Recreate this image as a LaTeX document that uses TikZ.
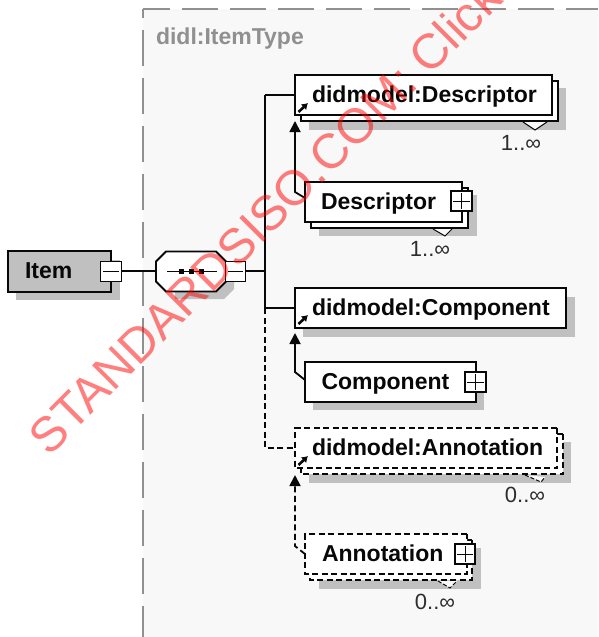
\documentclass[tikz,border=0pt]{standalone}
\usepackage{fontspec}
\setmainfont{Liberation Sans}
\usetikzlibrary{arrows.meta,shapes.misc,calc}
\definecolor{panelc}{HTML}{F8F8F8}
\definecolor{dashc}{HTML}{909090}
\definecolor{shadowc}{HTML}{C0C0C0}
\definecolor{inkc}{HTML}{080808}
\tikzset{
  x=1pt,y=-1pt,
  every node/.style={inner sep=0pt,outer sep=0pt,text=inkc},
  conn/.style={draw=inkc,line width=1.8pt},
  dconn/.style={conn,dash pattern=on 6pt off 3.5pt},
  uparrow/.style={-{Triangle[width=11pt,length=11pt]}},
  lbl/.style={font=\fontsize{23}{23}\selectfont\bfseries,text height=14pt,text depth=0pt,align=left},
  boxa/.style={draw=inkc,fill=white,line width=1.8pt,minimum height=40pt,lbl,inner xsep=17pt},
  backa/.style={draw=inkc,fill=white,line width=1.8pt,minimum height=40pt},
  dbacka/.style={backa,chamfered rectangle,chamfered rectangle xsep=3pt,chamfered rectangle ysep=3pt,dash pattern=on 6pt off 3.5pt},
  pm/.style={draw=inkc,fill=white,line width=1.8pt,minimum width=20pt,minimum height=20pt},
  sh/.style={fill=shadowc},
  tail/.style={draw=inkc,fill=panelc,line width=1pt},
  mult/.style={font=\fontsize{22}{22}\selectfont,text=inkc!85!white},
  refmark/.style={draw=inkc,line width=2.6pt,-{Latex[length=6pt,width=8pt]}},
}
\begin{document}
\begin{tikzpicture}
\useasboundingbox (0,0) rectangle (598,637);
% panel
\fill[panelc] (143,9) rectangle (598,637);
\draw[dashc,line width=2pt,dash pattern=on 36pt off 12pt,dash phase=9pt] (143,9) -- (598,9);
\draw[dashc,line width=2pt,dash pattern=on 36pt off 12pt,dash phase=27pt] (143,9) -- (143,637);
\node[anchor=base west,font=\fontsize{23}{23}\selectfont\bfseries,text=dashc] (title) at (156,44) {didl:ItemType};
% shadows
\fill[sh] (16,260) rectangle (120,300);
\fill[sh] (175,261) -- (234,261) -- (234,289) -- (224,299) -- (175,299) -- cycle;
\fill[sh] (309,88) rectangle (566,130);
\fill[sh] (319,195) rectangle (477,236);
\fill[sh] (303,297) rectangle (575,337);
\fill[sh] (313,371) rectangle (484,410);
\fill[sh] (309,442) rectangle (571,483);
\fill[sh] (319,548) rectangle (481,589);
\coordinate (jn) at (265,271);
\coordinate (jd) at (265,308);
% Item
\node[boxa,fill=shadowc,minimum height=41pt,text width=69pt] (item) at (59.5,271.5) {Item};
\node[pm,minimum width=21pt] (m1) at (111,271.5) {};
\draw[conn,line width=1pt] (103,271) -- (119,271);
% sequence
\node[minimum width=70pt,minimum height=40pt] (seq) at (191,271.5) {};
\draw[conn,fill=white] (166,251.5) -- (216,251.5) -- (226,261.5) -- (226,281.5) -- (216,291.5) -- (166,291.5) -- (156,281.5) -- (156,261.5) -- cycle;
\draw[conn,line width=1pt] (167,271) -- (217,271);
\foreach \cx in {181,191,201} \fill[inkc] (\cx-2.5,268.5) rectangle (\cx+2.5,273.5);
\node[pm] (m2) at (235.5,271.5) {};
\draw[conn,line width=1pt] (228,271) -- (243,271);
\draw[conn] (m1.east |- jn) -- (seq.west |- jn);
\draw[conn] (m2.east |- jn) -- (jn);
% Descriptor ref
\node[backa,minimum width=257pt] (dtopb) at (429.5,101) {};
\node[boxa,text width=223pt] (dtop) at (423.5,95) {didmodel:Descriptor};
\draw[tail] (523,122) -- (535,130) -- (547,122);
\node[mult] (mdtop) at (521,143) {1..∞};
\draw[refmark] (298.5,112) -- (308,103);
% Descriptor local
\node[backa,minimum width=157pt] (dlowb) at (389.5,208) {};
\node[boxa,inner xsep=16pt,text width=125pt] (dlow) at (383.5,202) {Descriptor};
\node[pm,minimum width=21pt] (pd) at (461.5,201) {};
\draw[conn,line width=1pt] (461.5,193) -- (461.5,209) (453,201) -- (470,201);
\draw[tail] (433,229) -- (445,236) -- (452,229);
\node[mult] (mdlow) at (430,249) {1..∞};
\draw[conn,uparrow] ($(dlow.north west)+(0,16)$) -- ++(-10,-6) -- ($(dtop.south west)+(0,6)$);
% Component ref
\node[boxa,text width=237pt] (ctop) at (430.5,308) {didmodel:Component};
\draw[refmark] (298.5,324) -- (308,315);
% Component local
\node[boxa,inner xsep=16.5pt,text width=138pt] (clow) at (390.5,382) {Component};
\node[pm,minimum width=21pt] (pc) at (475.5,382) {};
\draw[conn,line width=1pt] (475.5,374) -- (475.5,390) (467,382) -- (484,382);
\draw[conn,uparrow] ($(clow.north west)+(0,18)$) -- ++(-10,-8) -- ($(ctop.south west)+(0,5)$);
% Annotation ref
\node[dbacka,minimum width=262pt] (atopb) at (432,454) {};
\node[dbacka,minimum width=262pt] (atop) at (426,448) {};
\node[anchor=west,lbl] (atopt) at (312,448) {didmodel:Annotation};
\draw[tail,dash pattern=on 4pt off 2pt] (525,475) -- (541,482) -- (545,477);
\node[mult] (matop) at (525,495) {0..∞};
\draw[refmark] (298.5,465) -- (308,456);
% Annotation local
\node[dbacka,minimum width=162pt] (alowb) at (391,560) {};
\node[dbacka,minimum width=162pt] (alow) at (386,554) {};
\node[anchor=west,lbl] (alowt) at (322,554) {Annotation};
\node[pm] (pa) at (465,554) {};
\draw[conn,line width=1pt] (465,546) -- (465,562) (457,554) -- (473,554);
\draw[tail,dash pattern=on 4pt off 2pt] (438,581) -- (450,588) -- (457,581);
\node[mult] (malow) at (435,602) {0..∞};
\draw[dconn,uparrow] (alow.west) -- ++(-10,-8) -- ($(atop.south west)+(0,7)$);
% bus
\draw[conn] (jn |- dtop.west) -- (jd);
\draw[conn] (jn |- dtop.west) -- (dtop.west);
\draw[conn] (jd) -- (ctop.west);
\draw[dconn] (jd) |- (atop.west);
% watermark
\begin{scope}
\clip (0,0) rectangle (598,637);
\node[anchor=base west,rotate=45,font=\fontsize{49}{49}\selectfont,text=red,text opacity=0.5] (wm) at (49,457) {STANDARDSISO.COM: Click};
\end{scope}
\end{tikzpicture}
\end{document}
